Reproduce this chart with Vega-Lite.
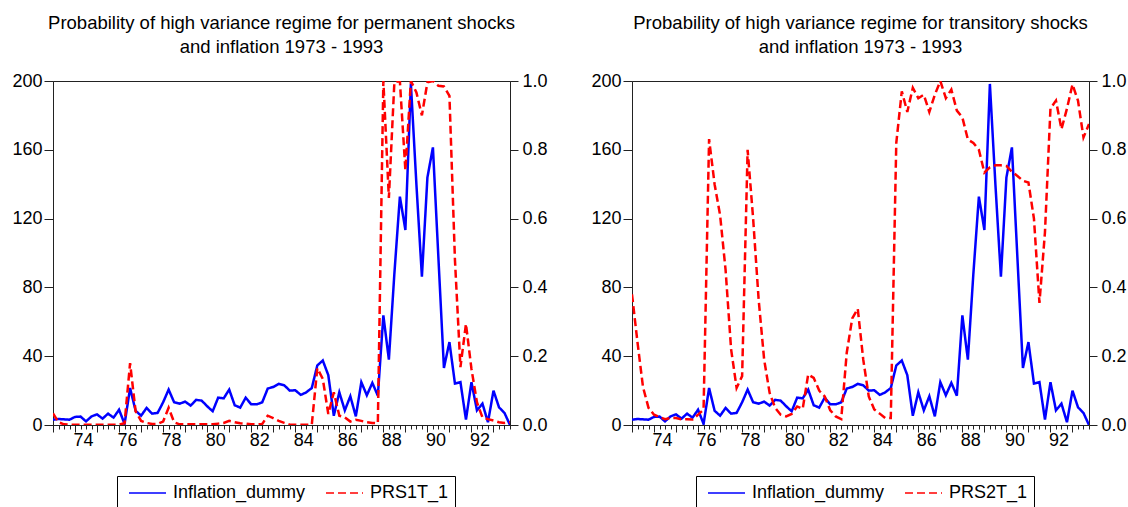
{
  "$schema": "https://vega.github.io/schema/vega-lite/v6.json",
  "padding": {"left": 11, "top": 13, "right": 0, "bottom": 0},
  "background": "white",
  "config": {
    "font": "Liberation Sans",
    "view": {"stroke": "#222", "strokeWidth": 1},
    "axis": {"labelFont": "Liberation Sans", "labelFontSize": 18, "labelColor": "black", "domainColor": "#222", "tickColor": "#222", "grid": false, "title": null, "labelFlush": false},
    "title": {"font": "Liberation Sans", "fontSize": 18.5, "fontWeight": "normal", "color": "black", "lineHeight": 23.5, "offset": 16, "anchor": "middle"},
    "legend": {"labelFont": "Liberation Sans", "labelFontSize": 18, "labelColor": "black"}
  },
  "datasets": {
    "d": [
      {"t": 1973, "infl": 3.1, "p1": 0.034, "p2": 0.38},
      {"t": 1973.25, "infl": 3.5, "p1": 0.008, "p2": 0.24},
      {"t": 1973.5, "infl": 3.3, "p1": 0.002, "p2": 0.11},
      {"t": 1973.75, "infl": 3.1, "p1": 0.001, "p2": 0.05},
      {"t": 1974, "infl": 4.7, "p1": 0.001, "p2": 0.03},
      {"t": 1974.25, "infl": 4.9, "p1": 0.001, "p2": 0.023},
      {"t": 1974.5, "infl": 2.1, "p1": 0.001, "p2": 0.017},
      {"t": 1974.75, "infl": 5.0, "p1": 0.001, "p2": 0.02},
      {"t": 1975, "infl": 6.2, "p1": 0.001, "p2": 0.02},
      {"t": 1975.25, "infl": 3.7, "p1": 0.001, "p2": 0.016},
      {"t": 1975.5, "infl": 6.6, "p1": 0.001, "p2": 0.017},
      {"t": 1975.75, "infl": 4.3, "p1": 0.001, "p2": 0.016},
      {"t": 1976, "infl": 8.9, "p1": 0.001, "p2": 0.03},
      {"t": 1976.25, "infl": 0.6, "p1": 0.005, "p2": 0.045},
      {"t": 1976.5, "infl": 21.5, "p1": 0.18, "p2": 0.831},
      {"t": 1976.75, "infl": 8.3, "p1": 0.04, "p2": 0.70},
      {"t": 1977, "infl": 5.4, "p1": 0.012, "p2": 0.61},
      {"t": 1977.25, "infl": 9.9, "p1": 0.006, "p2": 0.45},
      {"t": 1977.5, "infl": 6.6, "p1": 0.003, "p2": 0.22},
      {"t": 1977.75, "infl": 7.0, "p1": 0.003, "p2": 0.108},
      {"t": 1978, "infl": 13.2, "p1": 0.01, "p2": 0.142},
      {"t": 1978.25, "infl": 20.6, "p1": 0.05, "p2": 0.80},
      {"t": 1978.5, "infl": 13.2, "p1": 0.008, "p2": 0.60},
      {"t": 1978.75, "infl": 12.4, "p1": 0.002, "p2": 0.365},
      {"t": 1979, "infl": 13.6, "p1": 0.002, "p2": 0.19},
      {"t": 1979.25, "infl": 11.3, "p1": 0.002, "p2": 0.093},
      {"t": 1979.5, "infl": 14.6, "p1": 0.002, "p2": 0.05},
      {"t": 1979.75, "infl": 14.2, "p1": 0.002, "p2": 0.03},
      {"t": 1980, "infl": 10.9, "p1": 0.002, "p2": 0.025},
      {"t": 1980.25, "infl": 8.0, "p1": 0.002, "p2": 0.032},
      {"t": 1980.5, "infl": 15.9, "p1": 0.004, "p2": 0.054},
      {"t": 1980.75, "infl": 15.5, "p1": 0.006, "p2": 0.047},
      {"t": 1981, "infl": 20.6, "p1": 0.012, "p2": 0.147},
      {"t": 1981.25, "infl": 11.5, "p1": 0.008, "p2": 0.137},
      {"t": 1981.5, "infl": 10.1, "p1": 0.005, "p2": 0.10},
      {"t": 1981.75, "infl": 15.9, "p1": 0.004, "p2": 0.083},
      {"t": 1982, "infl": 12.0, "p1": 0.002, "p2": 0.043},
      {"t": 1982.25, "infl": 12.0, "p1": 0.002, "p2": 0.025},
      {"t": 1982.5, "infl": 13.2, "p1": 0.003, "p2": 0.017},
      {"t": 1982.75, "infl": 21.2, "p1": 0.027, "p2": 0.21},
      {"t": 1983, "infl": 22.1, "p1": 0.02, "p2": 0.31},
      {"t": 1983.25, "infl": 23.9, "p1": 0.012, "p2": 0.338},
      {"t": 1983.5, "infl": 23.1, "p1": 0.006, "p2": 0.19},
      {"t": 1983.75, "infl": 20.0, "p1": 0.001, "p2": 0.083},
      {"t": 1984, "infl": 20.2, "p1": 0.001, "p2": 0.045},
      {"t": 1984.25, "infl": 17.5, "p1": 0.001, "p2": 0.033},
      {"t": 1984.5, "infl": 19.0, "p1": 0.001, "p2": 0.02},
      {"t": 1984.75, "infl": 21.5, "p1": 0.001, "p2": 0.02},
      {"t": 1985, "infl": 34.6, "p1": 0.165, "p2": 0.82},
      {"t": 1985.25, "infl": 37.5, "p1": 0.134, "p2": 0.97},
      {"t": 1985.5, "infl": 29.0, "p1": 0.032, "p2": 0.91},
      {"t": 1985.75, "infl": 5.4, "p1": 0.095, "p2": 0.98},
      {"t": 1986, "infl": 19.0, "p1": 0.027, "p2": 0.95},
      {"t": 1986.25, "infl": 8.5, "p1": 0.022, "p2": 0.96},
      {"t": 1986.5, "infl": 16.7, "p1": 0.01, "p2": 0.91},
      {"t": 1986.75, "infl": 5.0, "p1": 0.015, "p2": 0.96},
      {"t": 1987, "infl": 24.9, "p1": 0.012, "p2": 1.0},
      {"t": 1987.25, "infl": 17.3, "p1": 0.008, "p2": 0.95},
      {"t": 1987.5, "infl": 24.5, "p1": 0.006, "p2": 0.975},
      {"t": 1987.75, "infl": 17.0, "p1": 0.005, "p2": 0.914},
      {"t": 1988, "infl": 63.7, "p1": 1.0, "p2": 0.894},
      {"t": 1988.25, "infl": 38.0, "p1": 0.66, "p2": 0.83},
      {"t": 1988.5, "infl": 88, "p1": 0.996, "p2": 0.82},
      {"t": 1988.75, "infl": 132.8, "p1": 1.0, "p2": 0.80},
      {"t": 1989, "infl": 113.4, "p1": 0.74, "p2": 0.734},
      {"t": 1989.25, "infl": 198.3, "p1": 1.0, "p2": 0.749},
      {"t": 1989.5, "infl": 140, "p1": 0.967, "p2": 0.755},
      {"t": 1989.75, "infl": 86.2, "p1": 0.90, "p2": 0.755},
      {"t": 1990, "infl": 143.9, "p1": 0.996, "p2": 0.753},
      {"t": 1990.25, "infl": 161.4, "p1": 1.0, "p2": 0.736},
      {"t": 1990.5, "infl": 97, "p1": 0.986, "p2": 0.724},
      {"t": 1990.75, "infl": 33.2, "p1": 0.984, "p2": 0.71},
      {"t": 1991, "infl": 48.2, "p1": 0.957, "p2": 0.705},
      {"t": 1991.25, "infl": 24.1, "p1": 0.48, "p2": 0.60},
      {"t": 1991.5, "infl": 24.9, "p1": 0.168, "p2": 0.355},
      {"t": 1991.75, "infl": 3.1, "p1": 0.294, "p2": 0.56},
      {"t": 1992, "infl": 24.9, "p1": 0.163, "p2": 0.92},
      {"t": 1992.25, "infl": 8.5, "p1": 0.066, "p2": 0.943},
      {"t": 1992.5, "infl": 12.4, "p1": 0.022, "p2": 0.86},
      {"t": 1992.75, "infl": 1.6, "p1": 0.017, "p2": 0.92},
      {"t": 1993, "infl": 20.0, "p1": 0.013, "p2": 0.99},
      {"t": 1993.25, "infl": 10.3, "p1": 0.008, "p2": 0.943},
      {"t": 1993.5, "infl": 7.0, "p1": 0.006, "p2": 0.836},
      {"t": 1993.75, "infl": 0.0, "p1": 0.008, "p2": 0.875}
    ]
  },
  "spacing": 42,
  "resolve": {"scale": {"color": "independent", "strokeDash": "independent"}, "legend": {"color": "independent", "strokeDash": "independent"}},
  "hconcat": [
    {
      "width": 457,
      "height": 344,
      "title": {"text": ["Probability of high variance regime for permanent shocks", "and inflation 1973 - 1993"]},
      "data": {"name": "d"},
      "encoding": {
        "x": {"field": "t", "type": "quantitative",
          "scale": {"domain": [1973, 1993.75], "nice": false, "zero": false},
          "axis": {
            "values": [1973,1973.25,1973.5,1973.75,1974,1974.25,1974.5,1974.75,1975,1975.25,1975.5,1975.75,1976,1976.25,1976.5,1976.75,1977,1977.25,1977.5,1977.75,1978,1978.25,1978.5,1978.75,1979,1979.25,1979.5,1979.75,1980,1980.25,1980.5,1980.75,1981,1981.25,1981.5,1981.75,1982,1982.25,1982.5,1982.75,1983,1983.25,1983.5,1983.75,1984,1984.25,1984.5,1984.75,1985,1985.25,1985.5,1985.75,1986,1986.25,1986.5,1986.75,1987,1987.25,1987.5,1987.75,1988,1988.25,1988.5,1988.75,1989,1989.25,1989.5,1989.75,1990,1990.25,1990.5,1990.75,1991,1991.25,1991.5,1991.75,1992,1992.25,1992.5,1992.75,1993,1993.25,1993.5,1993.75],
            "tickSize": {"condition": {"test": "datum.value % 1 == 0", "value": 7}, "value": 4},
            "labelExpr": "datum.value % 2 == 0 ? substring(toString(datum.value), 2, 4) : ''",
            "labelOffset": 8, "labelPadding": -1, "labelOverlap": false, "labelBound": false, "labelFlush": false
          }
        }
      },
      "layer": [
        {
          "mark": {"type": "line", "strokeWidth": 2.5, "clip": true},
          "encoding": {
            "y": {"field": "infl", "type": "quantitative", "scale": {"domain": [0, 200], "nice": false},
              "axis": {"orient": "left", "values": [0, 40, 80, 120, 160, 200], "tickSize": 9, "labelPadding": 2}},
            "color": {"datum": "Inflation_dummy", "type": "nominal",
              "scale": {"domain": ["Inflation_dummy", "PRS1T_1"], "range": ["#0000ff", "#ff0000"]},
              "legend": {"orient": "none", "legendX": 64, "legendY": 395, "direction": "horizontal", "title": null, "strokeColor": "black", "padding": 6, "symbolType": "M-0.5,0H3.2", "symbolSize": 400, "symbolStrokeWidth": 1.5, "labelOffset": 28, "columnPadding": 14}},
            "strokeDash": {"datum": "Inflation_dummy", "type": "nominal",
              "scale": {"domain": ["Inflation_dummy", "PRS1T_1"], "range": [[1, 0], [8, 4]]},
              "legend": {"orient": "none", "legendX": 64, "legendY": 395, "direction": "horizontal", "title": null, "strokeColor": "black", "padding": 6, "symbolType": "M-0.5,0H3.2", "symbolSize": 400, "symbolStrokeWidth": 1.5, "labelOffset": 28, "columnPadding": 14}}
          }
        },
        {
          "mark": {"type": "line", "strokeWidth": 2.5, "clip": true},
          "encoding": {
            "y": {"field": "p1", "type": "quantitative", "scale": {"domain": [0, 1], "nice": false},
              "axis": {"orient": "right", "values": [0, 0.2, 0.4, 0.6, 0.8, 1.0], "format": ".1f", "tickSize": 8, "labelPadding": 4}},
            "color": {"datum": "PRS1T_1", "type": "nominal"},
            "strokeDash": {"datum": "PRS1T_1", "type": "nominal"}
          }
        }
      ],
      "resolve": {"scale": {"y": "independent"}}
    },
    {
      "width": 457,
      "height": 344,
      "title": {"text": ["Probability of high variance regime for transitory shocks", "and inflation 1973 - 1993"]},
      "data": {"name": "d"},
      "encoding": {
        "x": {"field": "t", "type": "quantitative",
          "scale": {"domain": [1973, 1993.75], "nice": false, "zero": false},
          "axis": {
            "values": [1973,1973.25,1973.5,1973.75,1974,1974.25,1974.5,1974.75,1975,1975.25,1975.5,1975.75,1976,1976.25,1976.5,1976.75,1977,1977.25,1977.5,1977.75,1978,1978.25,1978.5,1978.75,1979,1979.25,1979.5,1979.75,1980,1980.25,1980.5,1980.75,1981,1981.25,1981.5,1981.75,1982,1982.25,1982.5,1982.75,1983,1983.25,1983.5,1983.75,1984,1984.25,1984.5,1984.75,1985,1985.25,1985.5,1985.75,1986,1986.25,1986.5,1986.75,1987,1987.25,1987.5,1987.75,1988,1988.25,1988.5,1988.75,1989,1989.25,1989.5,1989.75,1990,1990.25,1990.5,1990.75,1991,1991.25,1991.5,1991.75,1992,1992.25,1992.5,1992.75,1993,1993.25,1993.5,1993.75],
            "tickSize": {"condition": {"test": "datum.value % 1 == 0", "value": 7}, "value": 4},
            "labelExpr": "datum.value % 2 == 0 ? substring(toString(datum.value), 2, 4) : ''",
            "labelOffset": 8, "labelPadding": -1, "labelOverlap": false, "labelBound": false, "labelFlush": false
          }
        }
      },
      "layer": [
        {
          "mark": {"type": "line", "strokeWidth": 2.5, "clip": true},
          "encoding": {
            "y": {"field": "infl", "type": "quantitative", "scale": {"domain": [0, 200], "nice": false},
              "axis": {"orient": "left", "values": [0, 40, 80, 120, 160, 200], "tickSize": 9, "labelPadding": 2}},
            "color": {"datum": "Inflation_dummy", "type": "nominal",
              "scale": {"domain": ["Inflation_dummy", "PRS2T_1"], "range": ["#0000ff", "#ff0000"]},
              "legend": {"orient": "none", "legendX": 64, "legendY": 395, "direction": "horizontal", "title": null, "strokeColor": "black", "padding": 6, "symbolType": "M-0.5,0H3.2", "symbolSize": 400, "symbolStrokeWidth": 1.5, "labelOffset": 28, "columnPadding": 14}},
            "strokeDash": {"datum": "Inflation_dummy", "type": "nominal",
              "scale": {"domain": ["Inflation_dummy", "PRS2T_1"], "range": [[1, 0], [8, 4]]},
              "legend": {"orient": "none", "legendX": 64, "legendY": 395, "direction": "horizontal", "title": null, "strokeColor": "black", "padding": 6, "symbolType": "M-0.5,0H3.2", "symbolSize": 400, "symbolStrokeWidth": 1.5, "labelOffset": 28, "columnPadding": 14}}
          }
        },
        {
          "mark": {"type": "line", "strokeWidth": 2.5, "clip": true},
          "encoding": {
            "y": {"field": "p2", "type": "quantitative", "scale": {"domain": [0, 1], "nice": false},
              "axis": {"orient": "right", "values": [0, 0.2, 0.4, 0.6, 0.8, 1.0], "format": ".1f", "tickSize": 8, "labelPadding": 4}},
            "color": {"datum": "PRS2T_1", "type": "nominal"},
            "strokeDash": {"datum": "PRS2T_1", "type": "nominal"}
          }
        }
      ],
      "resolve": {"scale": {"y": "independent"}}
    }
  ]
}
